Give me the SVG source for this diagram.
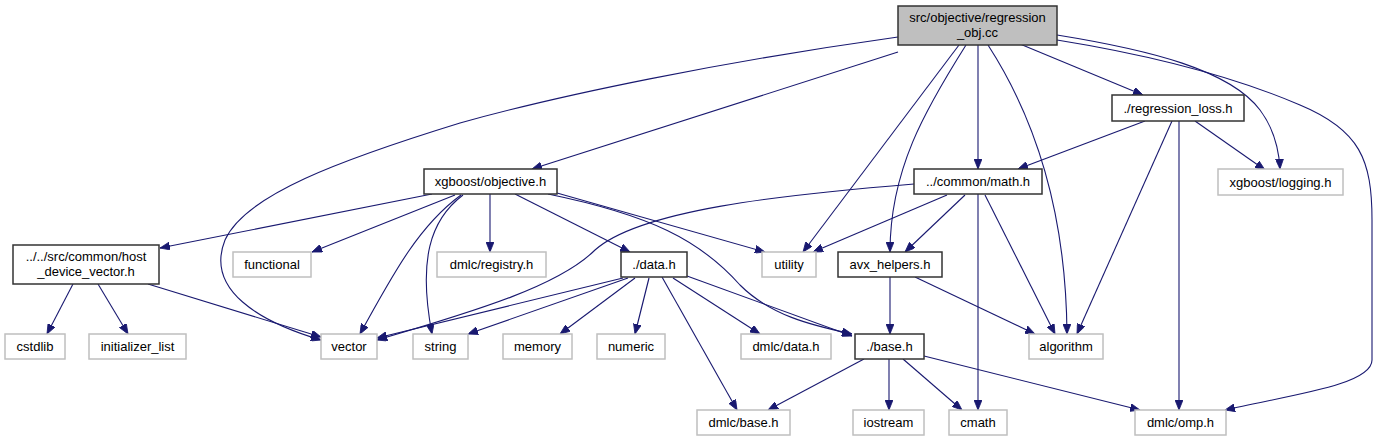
<svg xmlns="http://www.w3.org/2000/svg" width="1386" height="440" viewBox="0 0 1386 440">
<defs>
<style>
.n rect{fill:#fff;stroke:#333;stroke-width:1.5}
.g rect{fill:#fff;stroke:#bfbfbf;stroke-width:1.5}
.f rect{fill:#bfbfbf;stroke:#333;stroke-width:1.5}
text{font-family:"Liberation Sans",Arial,sans-serif;font-size:13px;fill:#000;text-anchor:middle}
.e path{fill:none;stroke:#191970;stroke-width:1.1;marker-end:url(#ah)}
</style>
<marker id="ah" viewBox="0 0 10 8" markerWidth="10" markerHeight="8" refX="10" refY="4" orient="auto" markerUnits="userSpaceOnUse">
<path d="M0,0 L10,4 L0,8 z" fill="#191970" stroke="#191970" stroke-width="0.8"/>
</marker>
</defs>
<rect width="1386" height="440" fill="#fff"/>
<g id="connectors" class="e">
<path d="M898,37 C720,62 560,95 460,123 C340,160 245,195 225,240 C205,290 260,322 321,340"/>
<path d="M898,52 L532,169"/>
<path d="M959,45 L803,252"/>
<path d="M966,45 C925,110 890,170 890,252"/>
<path d="M978,45 L978,169"/>
<path d="M988,45 C1030,110 1066,200 1067,334"/>
<path d="M1020,44 L1143,95"/>
<path d="M1057,35 C1150,50 1230,70 1260,110 C1275,130 1279,150 1280,169"/>
<path d="M1057,40 C1150,55 1230,75 1300,105 C1360,130 1372,160 1372,220 L1372,360 C1372,385 1290,395 1225,410"/>
<path d="M432,194 L160,248"/>
<path d="M455,195 L312,252"/>
<path d="M461,195 C420,225 395,270 360,334"/>
<path d="M463,195 C430,220 418,260 432,334"/>
<path d="M490,194 L490,252"/>
<path d="M515,194 L630,252"/>
<path d="M557,193 L765,252"/>
<path d="M548,194 C650,215 700,240 740,285 C770,315 810,325 852,334"/>
<path d="M73,284 L47,334"/>
<path d="M98,284 L128,334"/>
<path d="M148,284 L321,337"/>
<path d="M947,195 L813,252"/>
<path d="M914,184 C780,195 640,210 595,250 C560,285 480,310 377,340"/>
<path d="M965,195 L905,252"/>
<path d="M978,194 L978,410"/>
<path d="M985,195 L1055,334"/>
<path d="M890,277 L890,334"/>
<path d="M915,277 L1035,334"/>
<path d="M1145,121 L1018,169"/>
<path d="M1172,121 L1077,334"/>
<path d="M1179,121 L1179,410"/>
<path d="M1195,121 L1265,170"/>
<path d="M623,278 L377,338"/>
<path d="M628,278 L468,334"/>
<path d="M635,278 L560,334"/>
<path d="M649,278 L635,334"/>
<path d="M662,277 L737,410"/>
<path d="M673,278 L760,334"/>
<path d="M687,276 L852,336"/>
<path d="M864,359 L768,410"/>
<path d="M889,359 L889,410"/>
<path d="M903,359 L962,410"/>
<path d="M924,356 L1140,410"/>
</g>
<g id="n_obj" class="f"><rect x="898" y="6" width="159" height="39"/><text x="977.5" y="22">src/objective/regression</text><text x="977.5" y="37">_obj.cc</text></g>
<g id="n_rloss" class="n"><rect x="1112" y="95" width="132" height="26"/><text x="1178" y="113">./regression_loss.h</text></g>
<g id="n_logging" class="g"><rect x="1218" y="169" width="125" height="26"/><text x="1280.5" y="187">xgboost/logging.h</text></g>
<g id="n_objective" class="n"><rect x="424" y="169" width="133" height="25"/><text x="490.5" y="186">xgboost/objective.h</text></g>
<g id="n_math" class="n"><rect x="914" y="169" width="128" height="25"/><text x="978" y="186">../common/math.h</text></g>
<g id="n_host" class="n"><rect x="13" y="245" width="146" height="39"/><text x="86" y="261">../../src/common/host</text><text x="86" y="276">_device_vector.h</text></g>
<g id="n_functional" class="g"><rect x="233" y="252" width="78" height="25"/><text x="272" y="269">functional</text></g>
<g id="n_registry" class="g"><rect x="437" y="252" width="109" height="25"/><text x="491.5" y="269">dmlc/registry.h</text></g>
<g id="n_data" class="n"><rect x="621" y="252" width="66" height="25"/><text x="654" y="269">./data.h</text></g>
<g id="n_utility" class="g"><rect x="762" y="252" width="54" height="25"/><text x="789" y="269">utility</text></g>
<g id="n_avx" class="n"><rect x="838" y="252" width="104" height="25"/><text x="890" y="269">avx_helpers.h</text></g>
<g id="n_cstdlib" class="g"><rect x="5" y="334" width="60" height="25"/><text x="35" y="351">cstdlib</text></g>
<g id="n_init" class="g"><rect x="89" y="334" width="97" height="25"/><text x="137.5" y="351">initializer_list</text></g>
<g id="n_vector" class="g"><rect x="321" y="334" width="56" height="25"/><text x="349" y="351">vector</text></g>
<g id="n_string" class="g"><rect x="413" y="334" width="55" height="25"/><text x="440.5" y="351">string</text></g>
<g id="n_memory" class="g"><rect x="503" y="334" width="69" height="25"/><text x="537.5" y="351">memory</text></g>
<g id="n_numeric" class="g"><rect x="597" y="334" width="68" height="25"/><text x="631" y="351">numeric</text></g>
<g id="n_dmlcdata" class="g"><rect x="741" y="334" width="90" height="25"/><text x="786" y="351">dmlc/data.h</text></g>
<g id="n_base" class="n"><rect x="855" y="334" width="69" height="25"/><text x="889.5" y="351">./base.h</text></g>
<g id="n_algorithm" class="g"><rect x="1029" y="334" width="74" height="25"/><text x="1066" y="351">algorithm</text></g>
<g id="n_dmlcbase" class="g"><rect x="697" y="410" width="93" height="25"/><text x="743.5" y="427">dmlc/base.h</text></g>
<g id="n_iostream" class="g"><rect x="853" y="410" width="71" height="25"/><text x="888.5" y="427">iostream</text></g>
<g id="n_cmath" class="g"><rect x="949" y="410" width="58" height="25"/><text x="978" y="427">cmath</text></g>
<g id="n_omp" class="g"><rect x="1135" y="410" width="91" height="25"/><text x="1180.5" y="427">dmlc/omp.h</text></g>
</svg>
